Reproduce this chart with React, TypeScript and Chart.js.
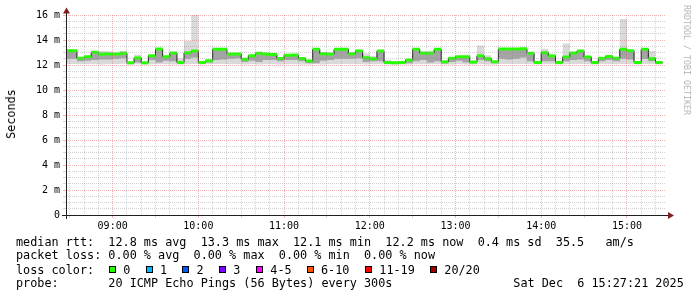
import React, { useEffect, useRef } from 'react';
import { Chart, registerables } from 'chart.js';

Chart.register(...registerables);

// time axis in minutes after 08:00 (08:27:21 .. 15:27:21)
const X_MIN = 27.35;
const X_MAX = 447.35;
const FIRST_STEP = 25; // first 5-minute step starts 08:25
const STEP = 5;

// median RTT per 5-minute step (ms)
const medianRtt = [
  13.14, 13.14, 12.54, 12.67, 13.02, 12.88, 12.88, 12.88, 12.94, 12.19, 12.56, 12.19,
  12.74, 13.28, 12.67, 12.96, 12.21, 12.98, 13.12, 12.21, 12.34, 13.26, 13.26, 12.88,
  12.88, 12.46, 12.74, 12.94, 12.88, 12.84, 12.52, 12.78, 12.80, 12.52, 12.32, 13.26,
  12.91, 12.88, 13.26, 13.26, 12.91, 13.12, 12.59, 12.51, 13.12, 12.21, 12.19, 12.21,
  12.40, 13.26, 12.96, 12.96, 13.26, 12.27, 12.54, 12.67, 12.67, 12.24, 12.74, 12.51,
  12.27, 13.28, 13.28, 13.28, 13.30, 12.94, 12.21, 12.98, 12.72, 12.21, 12.64, 12.96,
  13.12, 12.64, 12.21, 12.54, 12.69, 12.54, 13.26, 13.14, 12.21, 13.26, 12.51, 12.21,
];

// smoke: lowest ping per step
const smokeMin = [
  12.08, 12.08, 12.06, 12.06, 12.07, 12.05, 12.06, 12.08, 12.10, 12.05, 12.06, 12.05,
  12.07, 12.06, 12.06, 12.05, 12.04, 12.07, 12.08, 12.05, 12.06, 12.08, 12.08, 12.06,
  12.07, 12.05, 12.06, 12.05, 12.06, 12.06, 12.05, 12.06, 12.06, 12.05, 12.05, 12.06,
  12.05, 12.06, 12.07, 12.08, 12.06, 12.07, 12.05, 12.06, 12.06, 12.04, 12.05, 12.05,
  12.05, 12.06, 12.07, 12.06, 12.07, 12.05, 12.05, 12.06, 12.05, 12.05, 12.06, 12.05,
  12.05, 12.08, 12.08, 12.08, 12.09, 12.06, 12.05, 12.06, 12.06, 12.05, 12.06, 12.07,
  12.08, 12.06, 12.05, 12.06, 12.06, 12.06, 12.08, 12.07, 12.05, 12.08, 12.06, 12.05,
];

// smoke: lower edge of the dense (dark) part
const smokeLo = [
  12.50, 12.50, 12.30, 12.35, 12.40, 12.45, 12.45, 12.50, 12.55, 12.12, 12.20, 12.12,
  12.40, 12.20, 12.35, 12.30, 12.12, 12.50, 12.60, 12.12, 12.20, 12.40, 12.45, 12.50,
  12.55, 12.25, 12.35, 12.25, 12.40, 12.40, 12.30, 12.40, 12.40, 12.30, 12.15, 12.15,
  12.35, 12.40, 12.50, 12.50, 12.50, 12.55, 12.25, 12.30, 12.30, 12.12, 12.10, 12.12,
  12.15, 12.30, 12.40, 12.20, 12.30, 12.12, 12.25, 12.35, 12.20, 12.12, 12.40, 12.30,
  12.15, 12.50, 12.45, 12.50, 12.60, 12.30, 12.12, 12.30, 12.30, 12.12, 12.30, 12.40,
  12.45, 12.30, 12.12, 12.30, 12.40, 12.30, 12.50, 12.45, 12.12, 12.50, 12.30, 12.12,
];

// smoke: highest ping per step
const smokeMax = [
  13.20, 13.20, 12.60, 12.72, 13.08, 13.12, 13.10, 12.94, 13.12, 12.25, 12.85, 12.25,
  12.80, 13.34, 12.72, 13.02, 12.54, 13.92, 16.00, 12.26, 12.40, 13.32, 13.32, 12.94,
  12.94, 12.54, 12.80, 13.00, 12.94, 12.90, 12.58, 12.84, 12.86, 12.58, 12.38, 13.32,
  12.97, 12.94, 13.32, 13.32, 12.97, 13.18, 12.92, 12.72, 13.18, 12.40, 12.25, 12.27,
  12.46, 13.32, 13.02, 13.02, 13.32, 12.33, 12.60, 12.73, 12.73, 12.30, 13.56, 12.78,
  12.33, 13.34, 13.34, 13.34, 13.36, 13.00, 12.27, 13.30, 12.90, 12.27, 13.72, 13.02,
  13.18, 12.70, 12.27, 12.60, 12.75, 12.60, 15.68, 13.20, 12.27, 13.36, 13.12, 12.27,
];

const hourLabels = ['09:00', '10:00', '11:00', '12:00', '13:00', '14:00', '15:00'];
const yLabels = ['0', '2 m', '4 m', '6 m', '8 m', '10 m', '12 m', '14 m', '16 m'];

const lossLabels = ['0', '1', '2', '3', '4-5', '6-10', '11-19', '20/20'];
const lossColors = ['#26ff00', '#00b8ff', '#0059ff', '#7e00ff', '#ff00ff', '#ff5500', '#ff0000', '#a10000'];
const lossBoxX = [109, 145.7, 182.3, 219, 256, 306.7, 365, 430];

const statsLine = 'median rtt:  12.8 ms avg  13.3 ms max  12.1 ms min  12.2 ms now  0.4 ms sd  35.5   am/s';
const lossLine = 'packet loss: 0.00 % avg  0.00 % max  0.00 % min  0.00 % now';
const colorLine = 'loss color:';
const probeLine = 'probe:       20 ICMP Echo Pings (56 Bytes) every 300s';
const dateText = 'Sat Dec  6 15:27:21 2025';
const yTitle = 'Seconds';
const watermark = 'RRDTOOL / TOBI OETIKER';

const MEDIAN_HALF = 0.12; // half thickness of the coloured median bar
const GRID = 'rgba(140,140,140,0.38)';
const MGRID = 'rgba(222,79,79,0.42)';
const MONO = "'DejaVu Sans Mono', monospace";

function toSteps(values: number[]) {
  const pts = values.map((v, i) => ({ x: FIRST_STEP + STEP * i, y: v }));
  pts.push({ x: FIRST_STEP + STEP * values.length, y: values[values.length - 1] });
  return pts;
}

const axesPlugin = {
  id: 'rrdAxes',
  afterDraw(chart: any) {
    const { ctx, chartArea: a } = chart;
    ctx.save();
    ctx.strokeStyle = '#1f1f1f';
    ctx.lineWidth = 1;
    ctx.setLineDash([]);
    ctx.beginPath();
    ctx.moveTo(a.left - 4, a.bottom + 0.5);
    ctx.lineTo(a.right + 3, a.bottom + 0.5);
    ctx.moveTo(a.left + 0.5, a.bottom + 4);
    ctx.lineTo(a.left + 0.5, a.top - 3);
    ctx.stroke();
    ctx.fillStyle = '#801f1f';
    ctx.beginPath();
    ctx.moveTo(a.left + 0.5 - 3.5, a.top - 1.5);
    ctx.lineTo(a.left + 0.5 + 3.5, a.top - 1.5);
    ctx.lineTo(a.left + 0.5, a.top - 7.5);
    ctx.closePath();
    ctx.fill();
    ctx.beginPath();
    ctx.moveTo(a.right + 2, a.bottom + 0.5 - 3.5);
    ctx.lineTo(a.right + 2, a.bottom + 0.5 + 3.5);
    ctx.lineTo(a.right + 8, a.bottom + 0.5);
    ctx.closePath();
    ctx.fill();
    ctx.restore();
  },
};

export default function App() {
  const ref = useRef<HTMLCanvasElement>(null);

  useEffect(() => {
    const prevMargin = document.body.style.margin;
    document.body.style.margin = '0';
    const canvas = ref.current as HTMLCanvasElement;

    const xGrid: number[] = [];
    for (let t = 30; t <= 440; t += 10) xGrid.push(t);
    const yGrid: number[] = [];
    for (let k = 0; k <= 32; k++) yGrid.push(k * 0.5);

    const invisible = {
      borderColor: 'rgba(0,0,0,0)',
      borderWidth: 1,
      pointRadius: 0,
      stepped: true,
      fill: false,
    };

    const chart = new Chart(canvas, {
      type: 'line',
      data: {
        datasets: [
          { ...invisible, label: 'min', data: toSteps(smokeMin), order: 10 },
          { ...invisible, label: 'max', data: toSteps(smokeMax), order: 9, fill: '-1', backgroundColor: '#d9d9d9' },
          { ...invisible, label: 'lo', data: toSteps(smokeLo), order: 8 },
          {
            label: 'median',
            data: toSteps(medianRtt),
            order: 3,
            stepped: true,
            pointRadius: 0,
            borderColor: '#1a1a1a',
            borderWidth: 1,
            fill: '-1',
            backgroundColor: '#a4a4a4',
          },
          { ...invisible, label: 'medLo', data: toSteps(medianRtt.map((v) => v - MEDIAN_HALF)), order: 2 },
          {
            ...invisible,
            label: 'medHi',
            data: toSteps(medianRtt.map((v) => v + MEDIAN_HALF)),
            order: 1,
            fill: '-1',
            backgroundColor: lossColors[0],
          },
        ] as any,
      },
      options: {
        animation: false,
        responsive: false,
        maintainAspectRatio: false,
        devicePixelRatio: 1,
        events: [],
        layout: { padding: { left: 0, right: 31, top: 15, bottom: 62 } },
        plugins: { legend: { display: false }, tooltip: { enabled: false }, title: { display: false } },
        scales: {
          x: {
            type: 'linear',
            min: X_MIN,
            max: X_MAX,
            afterBuildTicks: (s: any) => {
              s.ticks = xGrid.map((v) => ({ value: v }));
            },
            afterFit: (s: any) => {
              s.height = 20;
            },
            ticks: {
              autoSkip: false,
              maxRotation: 0,
              minRotation: 0,
              padding: 2,
              color: '#000',
              font: { family: 'DejaVu Sans Mono', size: 10 },
              callback: (v: any) => (v % 60 === 0 ? hourLabels[v / 60 - 1] : ''),
            },
            grid: {
              z: 1,
              lineWidth: 1,
              color: (c: any) => (c.tick && c.tick.value % 60 === 0 ? MGRID : GRID),
              tickLength: 3,
              tickColor: (c: any) =>
                c.tick && c.tick.value % 60 === 0 ? MGRID : c.tick && c.tick.value % 30 === 0 ? GRID : 'rgba(0,0,0,0)',
            },
            border: { display: false, dash: [1, 1] },
          },
          y: {
            type: 'linear',
            min: 0,
            max: 16,
            afterBuildTicks: (s: any) => {
              s.ticks = yGrid.map((v) => ({ value: v }));
            },
            afterFit: (s: any) => {
              s.width = 66;
            },
            ticks: {
              autoSkip: false,
              padding: 3,
              color: '#000',
              font: { family: 'DejaVu Sans Mono', size: 10 },
              callback: (v: any) => (v % 2 === 0 ? yLabels[v / 2] : ''),
            },
            grid: {
              z: 1,
              lineWidth: 1,
              color: (c: any) => (c.tick && c.tick.value % 2 === 0 ? MGRID : GRID),
              tickLength: 3,
              tickColor: (c: any) => (c.tick && c.tick.value % 2 === 0 ? MGRID : GRID),
            },
            border: { display: false, dash: [1, 1] },
          },
        },
      } as any,
      plugins: [axesPlugin],
    });

    return () => {
      chart.destroy();
      document.body.style.margin = prevMargin;
    };
  }, []);

  const text = (top: number, left: number, content: string, extra: any = {}) => (
    <div
      style={{
        position: 'absolute',
        left,
        top,
        fontFamily: MONO,
        fontSize: '11.8px',
        lineHeight: '14px',
        whiteSpace: 'pre',
        color: '#000',
        ...extra,
      }}
    >
      {content}
    </div>
  );

  return (
    <div style={{ position: 'relative', width: 697, height: 297, background: '#fff', overflow: 'hidden' }}>
      <canvas ref={ref} width={697} height={297} style={{ position: 'absolute', left: 0, top: 0, width: 697, height: 297 }} />
      <div
        style={{
          position: 'absolute',
          left: 11,
          top: 114,
          transform: 'translate(-50%, -50%) rotate(-90deg)',
          fontFamily: MONO,
          fontSize: '11.8px',
          lineHeight: '14px',
          whiteSpace: 'pre',
          color: '#000',
        }}
      >
        {yTitle}
      </div>
      <div
        style={{
          position: 'absolute',
          left: 687,
          top: 60,
          transform: 'translate(-50%, -50%) rotate(90deg)',
          fontFamily: MONO,
          fontSize: '8.3px',
          lineHeight: '10px',
          whiteSpace: 'pre',
          color: '#b4b4b4',
        }}
      >
        {watermark}
      </div>
      {text(234.5, 16, statsLine)}
      {text(247.9, 16, lossLine)}
      {text(262.9, 16, colorLine)}
      {lossLabels.map((lab, k) => (
        <React.Fragment key={lab}>
          <div
            style={{
              position: 'absolute',
              left: lossBoxX[k],
              top: 265.5,
              width: 7,
              height: 7,
              boxSizing: 'border-box',
              border: '1px solid #000',
              background: lossColors[k],
            }}
          />
          {text(262.9, lossBoxX[k] + 14.3, lab)}
        </React.Fragment>
      ))}
      {text(276.2, 16, probeLine)}
      {text(276.2, 513.3, dateText)}
    </div>
  );
}
